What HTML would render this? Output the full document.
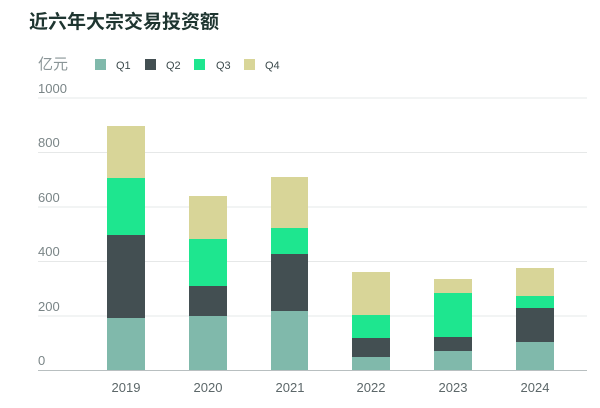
<!DOCTYPE html>
<html><head><meta charset="utf-8"><style>
body{margin:0;background:#fff;width:600px;height:403px;overflow:hidden;font-family:"Liberation Sans","Noto Sans CJK SC",sans-serif}
</style></head><body>
<svg width="600" height="403" xmlns="http://www.w3.org/2000/svg" font-family="Liberation Sans, Noto Sans CJK SC, sans-serif">
<text x="29" y="28" font-size="19" font-weight="bold" fill="#1e3530">近六年大宗交易投资额</text>
<text x="38" y="69" font-size="15" fill="#8a9597">亿元</text>
<rect x="95" y="59" width="11" height="11" fill="#80b9ab"/><text x="116" y="69" font-size="11" fill="#3c4a4c">Q1</text>
<rect x="145" y="59" width="11" height="11" fill="#434f52"/><text x="166" y="69" font-size="11" fill="#3c4a4c">Q2</text>
<rect x="194" y="59" width="11" height="11" fill="#1ee68f"/><text x="216" y="69" font-size="11" fill="#3c4a4c">Q3</text>
<rect x="244" y="59" width="11" height="11" fill="#d8d598"/><text x="265" y="69" font-size="11" fill="#3c4a4c">Q4</text>
<g stroke="#e6e8e8" stroke-width="1">
<line x1="38" x2="587" y1="98" y2="98"/><line x1="38" x2="587" y1="152.5" y2="152.5"/><line x1="38" x2="587" y1="207" y2="207"/><line x1="38" x2="587" y1="261.5" y2="261.5"/><line x1="38" x2="587" y1="316" y2="316"/>
</g>
<line x1="38" x2="587" y1="370.5" y2="370.5" stroke="#b8bfc0"/>
<g font-size="13" fill="#7a8587">
<text x="38" y="93">1000</text><text x="38" y="147">800</text><text x="38" y="202">600</text><text x="38" y="256">400</text><text x="38" y="311">200</text><text x="38" y="365">0</text>
</g>
<g>
<rect x="107" y="126" width="38" height="52" fill="#d8d598"/><rect x="107" y="178" width="38" height="57" fill="#1ee68f"/><rect x="107" y="235" width="38" height="83" fill="#434f52"/><rect x="107" y="318" width="38" height="52" fill="#80b9ab"/>
<rect x="189" y="196" width="38" height="43" fill="#d8d598"/><rect x="189" y="239" width="38" height="47" fill="#1ee68f"/><rect x="189" y="286" width="38" height="30" fill="#434f52"/><rect x="189" y="316" width="38" height="54" fill="#80b9ab"/>
<rect x="271" y="177" width="37" height="51" fill="#d8d598"/><rect x="271" y="228" width="37" height="26" fill="#1ee68f"/><rect x="271" y="254" width="37" height="57" fill="#434f52"/><rect x="271" y="311" width="37" height="59" fill="#80b9ab"/>
<rect x="352" y="272" width="38" height="43" fill="#d8d598"/><rect x="352" y="315" width="38" height="23" fill="#1ee68f"/><rect x="352" y="338" width="38" height="19" fill="#434f52"/><rect x="352" y="357" width="38" height="13" fill="#80b9ab"/>
<rect x="434" y="279" width="38" height="14" fill="#d8d598"/><rect x="434" y="293" width="38" height="44" fill="#1ee68f"/><rect x="434" y="337" width="38" height="14" fill="#434f52"/><rect x="434" y="351" width="38" height="19" fill="#80b9ab"/>
<rect x="516" y="268" width="38" height="28" fill="#d8d598"/><rect x="516" y="296" width="38" height="12" fill="#1ee68f"/><rect x="516" y="308" width="38" height="34" fill="#434f52"/><rect x="516" y="342" width="38" height="28" fill="#80b9ab"/>
</g>
<g font-size="13" fill="#5c6769" text-anchor="middle">
<text x="126" y="392">2019</text><text x="208" y="392">2020</text><text x="290" y="392">2021</text><text x="371" y="392">2022</text><text x="453" y="392">2023</text><text x="535" y="392">2024</text>
</g>
</svg>
</body></html>
